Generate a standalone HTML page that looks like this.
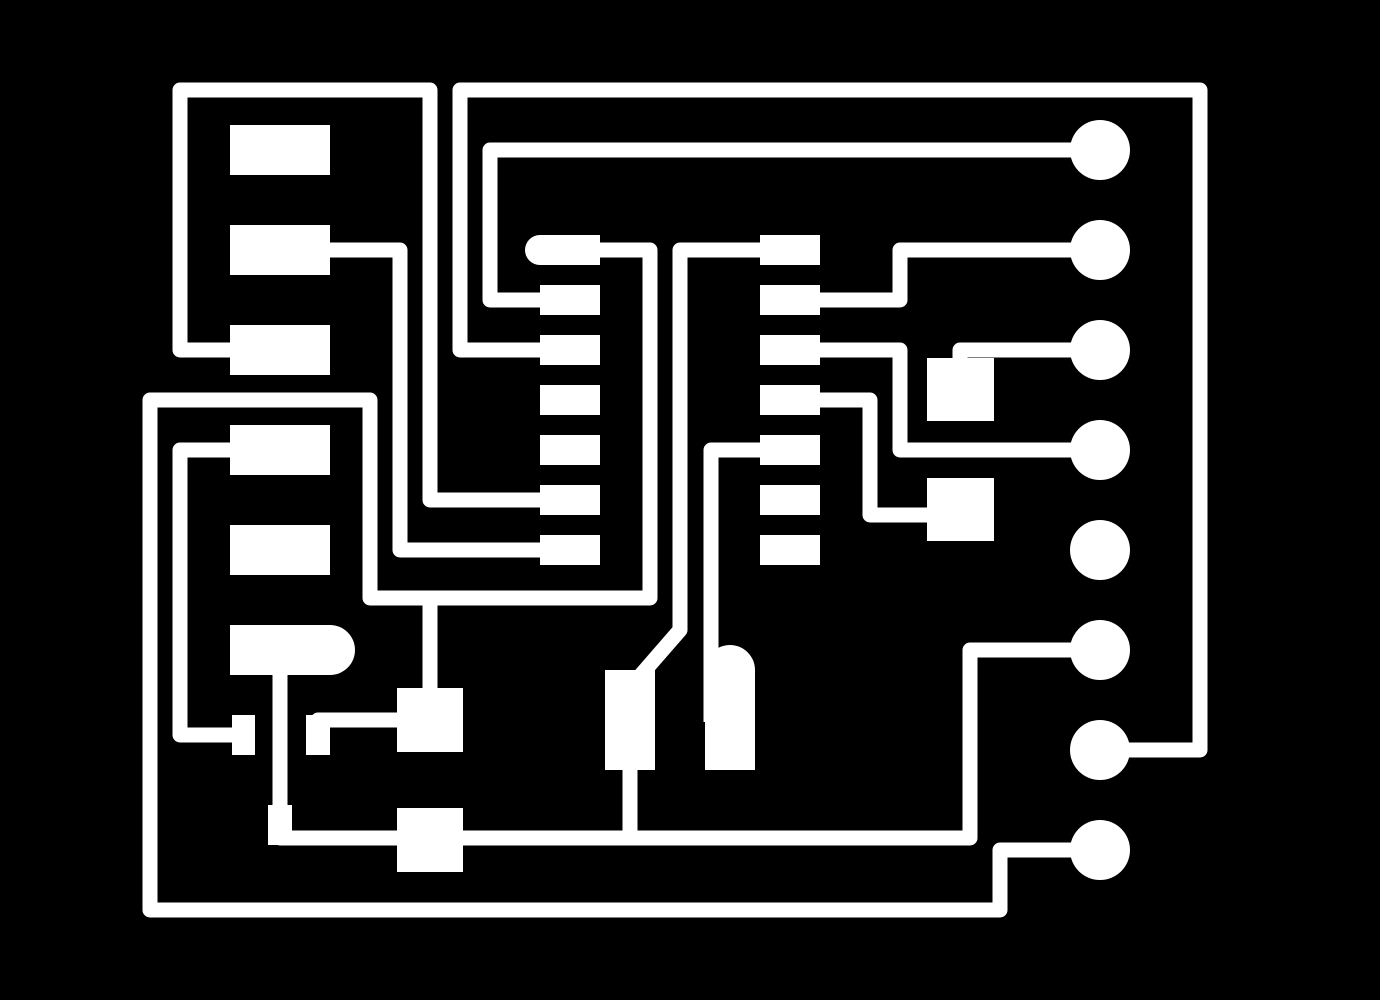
<!DOCTYPE html>
<html><head><style>html,body{margin:0;padding:0;background:#000;}svg{display:block}</style></head>
<body>
<svg width="1380" height="1000" viewBox="0 0 1380 1000" xmlns="http://www.w3.org/2000/svg">
<rect width="1380" height="1000" fill="#000"/>
<g fill="none" stroke="#fff" stroke-width="15" stroke-linejoin="round" stroke-linecap="butt">
<polyline points="1100,750 1200,750 1200,90 460,90 460,350 545,350"/>
<polyline points="1100,150 490,150 490,300 545,300"/>
<polyline points="545,500 430,500 430,90 180,90 180,350 235,350"/>
<polyline points="325,250 400,250 400,550 545,550"/>
<polyline points="545,250 650,250 650,598 370,598 370,400 150,400 150,910 1000,910 1000,850 1100,850"/>
<polyline points="430,598 430,700"/>
<polyline points="765,250 680,250 680,630 640,676"/>
<polyline points="765,450 711,450 711,722"/>
<polyline points="815,300 900,300 900,250 1100,250"/>
<polyline points="815,350 900,350 900,450 1100,450"/>
<polyline points="815,400 870,400 870,515 935,515"/>
<polyline points="1100,350 960,350 960,370"/>
<polyline points="240,450 180,450 180,735 240,735"/>
<polyline points="318,728 318,720 405,720"/>
<polyline points="280,670 280,838 970,838 970,650 1100,650"/>
<polyline points="630,765 630,838"/>
</g>
<g fill="#fff">
<rect x="230" y="125" width="100" height="50"/>
<rect x="230" y="225" width="100" height="50"/>
<rect x="230" y="325" width="100" height="50"/>
<rect x="230" y="425" width="100" height="50"/>
<rect x="230" y="525" width="100" height="50"/>
<path d="M230,625 H330 A25,25 0 0 1 330,675 H230 Z"/>
<rect x="540" y="235" width="60" height="30"/><circle cx="540" cy="250" r="15"/>
<rect x="540" y="285" width="60" height="30"/>
<rect x="540" y="335" width="60" height="30"/>
<rect x="540" y="385" width="60" height="30"/>
<rect x="540" y="435" width="60" height="30"/>
<rect x="540" y="485" width="60" height="30"/>
<rect x="540" y="535" width="60" height="30"/>
<rect x="760" y="235" width="60" height="30"/>
<rect x="760" y="285" width="60" height="30"/>
<rect x="760" y="335" width="60" height="30"/>
<rect x="760" y="385" width="60" height="30"/>
<rect x="760" y="435" width="60" height="30"/>
<rect x="760" y="485" width="60" height="30"/>
<rect x="760" y="535" width="60" height="30"/>
<rect x="927" y="358" width="67" height="63"/>
<rect x="927" y="478" width="67" height="63"/>
<rect x="232" y="715" width="23" height="40"/>
<rect x="306" y="715" width="24" height="40"/>
<rect x="397" y="688" width="66" height="64"/>
<rect x="397" y="808" width="66" height="64"/>
<rect x="268" y="805" width="24" height="40"/>
<rect x="605" y="670" width="50" height="100"/>
<path d="M705,770 V670 A25,25 0 0 1 755,670 V770 Z"/>
<circle cx="1100" cy="150" r="30"/>
<circle cx="1100" cy="250" r="30"/>
<circle cx="1100" cy="350" r="30"/>
<circle cx="1100" cy="450" r="30"/>
<circle cx="1100" cy="550" r="30"/>
<circle cx="1100" cy="650" r="30"/>
<circle cx="1100" cy="750" r="30"/>
<circle cx="1100" cy="850" r="30"/>
</g>
</svg>
</body></html>
